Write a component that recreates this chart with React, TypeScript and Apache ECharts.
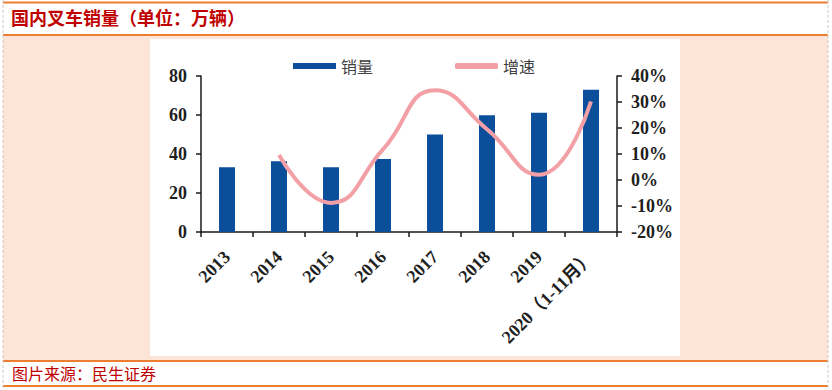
import React, { useEffect, useRef } from "react";
import * as echarts from "echarts";

const categories = ["2013", "2014", "2015", "2016", "2017", "2018", "2019", "2020（1-11月）"];
const salesValues = [33.2, 36.3, 33.2, 37.4, 50.0, 59.9, 61.1, 73.0];
const growthValues: (number | string)[] = ["-", 9.6, -8.8, 11.8, 34.5, 19.5, 2.0, 30.2];
const leftTicks = { min: 0, max: 80, interval: 20 };
const rightTicks = { min: -20, max: 40, interval: 10 };

const ORANGE = "#ED7D31";
const PEACH = "#FCE4D6";
const RED = "#C00000";
const SERIF = "'Liberation Serif', 'Times New Roman', 'Noto Sans CJK SC', serif";
const CJK = "'Noto Sans CJK SC', sans-serif";

export default function App() {
  const ref = useRef<HTMLDivElement>(null);
  useEffect(() => {
    if (!ref.current) return;
    const chart = echarts.init(ref.current, undefined, { renderer: "svg" });
    const axisLabelStyle = { color: "#1f1f1f", fontFamily: SERIF, fontWeight: "bold" as const, fontSize: 18 };
    chart.setOption({
      animation: false,
      backgroundColor: "#ffffff",
      graphic: [
        { type: "rect", silent: true, z: -10, shape: { x: 3, y: 36, width: 825, height: 324 }, style: { fill: PEACH } },
        { type: "rect", silent: true, z: -9, shape: { x: 150, y: 39, width: 530, height: 317 }, style: { fill: "#ffffff" } },
        { type: "line", silent: true, shape: { x1: 3, y1: 2.5, x2: 828, y2: 2.5 }, style: { stroke: ORANGE, lineWidth: 2 } },
        { type: "line", silent: true, shape: { x1: 3, y1: 35, x2: 828, y2: 35 }, style: { stroke: ORANGE, lineWidth: 2 } },
        { type: "line", silent: true, shape: { x1: 3, y1: 361, x2: 828, y2: 361 }, style: { stroke: ORANGE, lineWidth: 2 } },
        { type: "line", silent: true, shape: { x1: 3, y1: 386, x2: 828, y2: 386 }, style: { stroke: ORANGE, lineWidth: 2 } },
        { type: "line", silent: true, shape: { x1: 3, y1: 0, x2: 3, y2: 388 }, style: { stroke: "#c8c8c8", lineWidth: 1, lineDash: [3, 2] } },
        { type: "line", silent: true, shape: { x1: 828, y1: 0, x2: 828, y2: 388 }, style: { stroke: "#c8c8c8", lineWidth: 1, lineDash: [3, 2] } },
        {
          type: "text", silent: true, x: 11, y: 19,
          style: { text: "国内叉车销量（单位：万辆）", fill: RED, font: `bold 18px ${SERIF}`, verticalAlign: "middle" },
        },
        {
          type: "text", silent: true, x: 12, y: 373,
          style: { text: "图片来源：民生证券", fill: RED, font: `16px ${CJK}`, verticalAlign: "middle" },
        },
      ],
      legend: {
        left: 288,
        top: 53,
        itemGap: 82,
        itemWidth: 43,
        itemHeight: 6,
        textStyle: { fontFamily: CJK, fontSize: 16, color: "#404040" },
        data: [
          { name: "销量", icon: "rect" },
          { name: "增速", icon: "roundRect" },
        ],
      },
      grid: { left: 201, right: 215, top: 76, bottom: 158, containLabel: false },
      xAxis: {
        type: "category",
        data: categories,
        boundaryGap: true,
        axisLine: { show: true, lineStyle: { color: "#1a1a1a", width: 1.5 } },
        axisTick: { show: true, length: 5, lineStyle: { color: "#1a1a1a", width: 1.5 } },
        axisLabel: { ...axisLabelStyle, rotate: 45, margin: 22, interval: 0 },
        splitLine: { show: false },
      },
      yAxis: [
        {
          type: "value",
          ...leftTicks,
          axisLine: { show: true, lineStyle: { color: "#1a1a1a", width: 1.5 } },
          axisTick: { show: true, length: 5, lineStyle: { color: "#1a1a1a", width: 1.5 } },
          axisLabel: { ...axisLabelStyle, margin: 14 },
          splitLine: { show: false },
        },
        {
          type: "value",
          ...rightTicks,
          position: "right",
          axisLine: { show: true, lineStyle: { color: "#1a1a1a", width: 1.5 } },
          axisTick: { show: true, length: 5, lineStyle: { color: "#1a1a1a", width: 1.5 } },
          axisLabel: { ...axisLabelStyle, margin: 14, formatter: "{value}%" },
          splitLine: { show: false },
        },
      ],
      series: [
        {
          name: "销量",
          type: "bar",
          data: salesValues,
          barWidth: 16,
          itemStyle: { color: "#0B4E9A" },
        },
        {
          name: "增速",
          type: "line",
          yAxisIndex: 1,
          data: growthValues,
          smooth: 0.5,
          symbol: "none",
          lineStyle: { color: "#F2A0A6", width: 4 },
          itemStyle: { color: "#F2A0A6" },
        },
      ],
    });
    return () => chart.dispose();
  }, []);
  return <div ref={ref} style={{ position: "absolute", left: 0, top: 0, width: 832, height: 390 }} />;
}
